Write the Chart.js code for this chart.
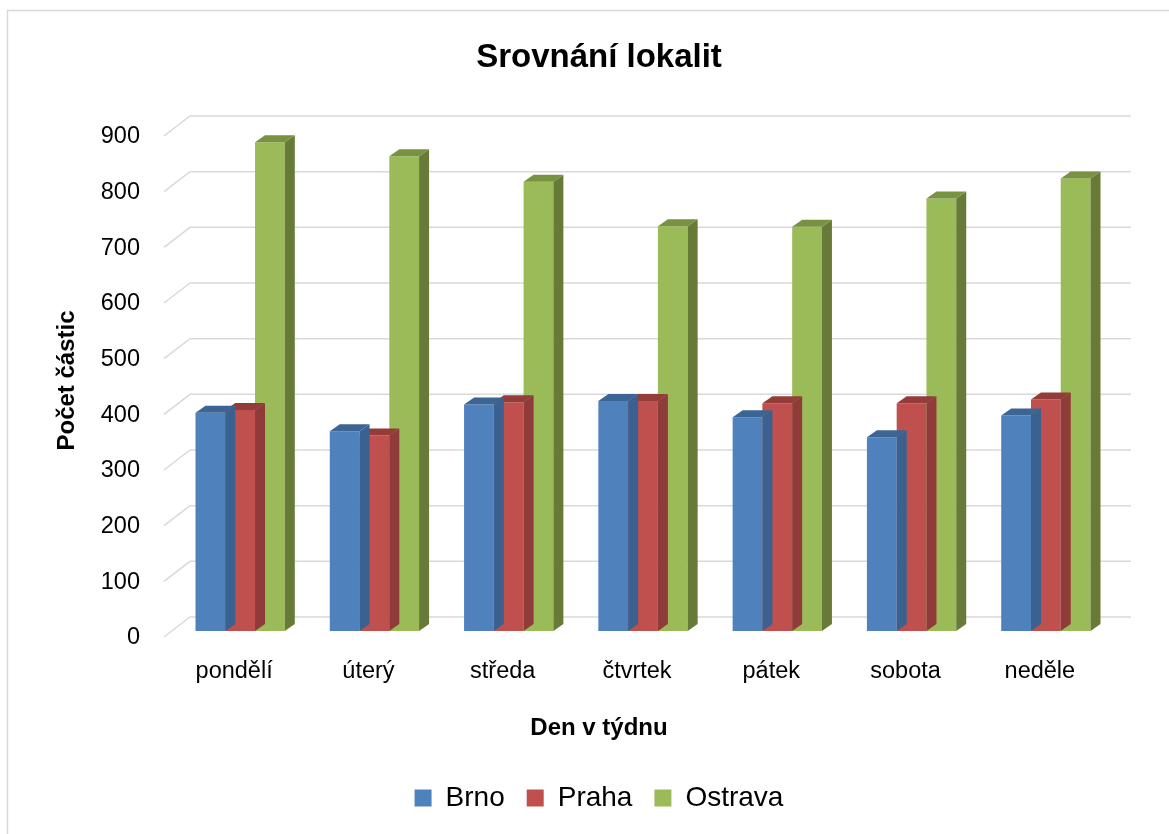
<!DOCTYPE html>
<html>
<head>
<meta charset="utf-8">
<script src="https://cdn.jsdelivr.net/npm/chart.js@4/dist/chart.umd.min.js"></script>
<style>
  html, body { margin: 0; padding: 0; background: #fff; }
  #wrap { width: 1169px; height: 834px; position: relative; }
</style>
</head>
<body>
<div id="wrap"><canvas id="chart" width="1169" height="834"></canvas></div>
<script>
// dny v tydnu a hodnoty
const days = ['pondělí', 'úterý', 'středa', 'čtvrtek', 'pátek', 'sobota', 'neděle'];
const brno = [392, 359, 407, 413, 384, 348, 387];
const praha = [397, 351, 411, 413, 409, 409, 416];
const ostrava = [878, 853, 807, 727, 726, 777, 813];
const yTicks = [0, 100, 200, 300, 400, 500, 600, 700, 800, 900];

const FONT = "'Liberation Sans', Arial, sans-serif";

// barvy: přední stěna, bok, vršek
const shades = {
    Brno: { front: '#4F81BD', side: '#3A6190', top: '#3C6596' },
    Praha: { front: '#C0504D', side: '#8F3B39', top: '#943C3A' },
    Ostrava: { front: '#9BBB59', side: '#677A37', top: '#789241' }
};

// posun do hloubky (3D efekt)
const DEPTH_X = 10, DEPTH_Y = 7;

const frame = {
    id: 'frame',
    beforeDraw(chart) {
        const ctx = chart.ctx;
        ctx.save();
        ctx.fillStyle = '#fff';
        ctx.fillRect(0, 0, chart.width, chart.height);
        ctx.strokeStyle = '#d9d9d9';
        ctx.lineWidth = 1.5;
        ctx.beginPath();
        ctx.moveTo(7.5, chart.height + 2);
        ctx.lineTo(7.5, 10.5);
        ctx.lineTo(chart.width + 2, 10.5);
        ctx.stroke();
        ctx.restore();
    }
};

// mřížka na zadní stěně + šikmé čáry na boku, boky a vršky sloupců
const grid3d = {
    id: 'grid3d',
    beforeDatasetsDraw(chart) {
        const { ctx, chartArea } = chart;
        const y = chart.scales.y;
        ctx.save();
        ctx.strokeStyle = '#d9d9d9';
        ctx.lineWidth = 1.5;
        yTicks.forEach(v => {
            const py = y.getPixelForValue(v);
            ctx.beginPath();
            ctx.moveTo(chartArea.left - 9, py + 6);
            ctx.lineTo(chartArea.left + 17, py - 14);
            ctx.lineTo(chartArea.right + 18, py - 14);
            ctx.stroke();
        });
        ctx.restore();
    },
    afterDatasetDraw(chart, args) {
        const ctx = chart.ctx;
        const c = shades[chart.data.datasets[args.index].label];
        ctx.save();
        args.meta.data.forEach(bar => {
            const { x, y, base, width } = bar.getProps(['x', 'y', 'base', 'width'], true);
            const l = x - width / 2, r = x + width / 2;
            ctx.fillStyle = c.side;
            ctx.beginPath();
            ctx.moveTo(r, y);
            ctx.lineTo(r + DEPTH_X, y - DEPTH_Y);
            ctx.lineTo(r + DEPTH_X, base - DEPTH_Y);
            ctx.lineTo(r, base);
            ctx.closePath();
            ctx.fill();
            ctx.fillStyle = c.top;
            ctx.beginPath();
            ctx.moveTo(l, y);
            ctx.lineTo(l + DEPTH_X, y - DEPTH_Y);
            ctx.lineTo(r + DEPTH_X, y - DEPTH_Y);
            ctx.lineTo(r, y);
            ctx.closePath();
            ctx.fill();
        });
        ctx.restore();
    }
};

const ctx = document.getElementById('chart').getContext('2d');

new Chart(ctx, {
    type: 'bar',
    data: {
        labels: days,
        datasets: [
            { label: 'Brno', data: brno, backgroundColor: shades.Brno.front },
            { label: 'Praha', data: praha, backgroundColor: shades.Praha.front },
            { label: 'Ostrava', data: ostrava, backgroundColor: shades.Ostrava.front }
        ]
    },
    options: {
        responsive: false,
        animation: false,
        layout: { padding: { left: 47, right: 18, top: 0, bottom: 12 } },
        datasets: {
            bar: { categoryPercentage: 0.665, barPercentage: 1.0, borderWidth: 0 }
        },
        plugins: {
            title: {
                display: true,
                text: 'Srovnání lokalit',
                color: '#000',
                font: { family: FONT, size: 33, weight: 'bold' },
                padding: { top: 38, bottom: 52.4 }
            },
            // popisek osy x (vycentrovaný na celý graf jako v originálu)
            subtitle: {
                display: true,
                position: 'bottom',
                weight: 500,
                text: 'Den v týdnu',
                color: '#000',
                font: { family: FONT, size: 24, weight: 'bold' },
                padding: { top: 18.6, bottom: 19.6 }
            },
            legend: {
                position: 'bottom',
                weight: 1000,
                labels: {
                    color: '#000',
                    font: { family: FONT, size: 28 },
                    boxWidth: 17,
                    boxHeight: 17,
                    padding: 22
                }
            },
            tooltip: { enabled: false }
        },
        scales: {
            x: {
                grid: { display: false, drawTicks: false },
                border: { display: false },
                afterFit(scale) { scale.height = 64; },
                ticks: {
                    color: '#000',
                    font: { family: FONT, size: 23.5 },
                    padding: 26,
                    labelOffset: -6,
                    maxRotation: 0
                }
            },
            y: {
                min: 0,
                max: 900,
                grid: { display: false, drawTicks: false },
                border: { display: false },
                afterFit(scale) { scale.width = 126; },
                afterBuildTicks(scale) { scale.ticks = yTicks.map(v => ({ value: v })); },
                ticks: {
                    color: '#000',
                    font: { family: FONT, size: 23.5 },
                    padding: 33,
                    labelOffset: 7
                },
                title: {
                    display: true,
                    text: 'Počet částic',
                    color: '#000',
                    font: { family: FONT, size: 24, weight: 'bold' },
                    padding: { top: 5.6, bottom: 0 }
                }
            },
            // prázdná osa vpravo jen kvůli odsazení kreslicí plochy
            yr: {
                type: 'linear',
                position: 'right',
                grid: { display: false },
                border: { display: false },
                ticks: { display: false },
                afterFit(scale) { scale.width = 38; }
            }
        }
    },
    plugins: [frame, grid3d]
});
</script>
</body>
</html>
